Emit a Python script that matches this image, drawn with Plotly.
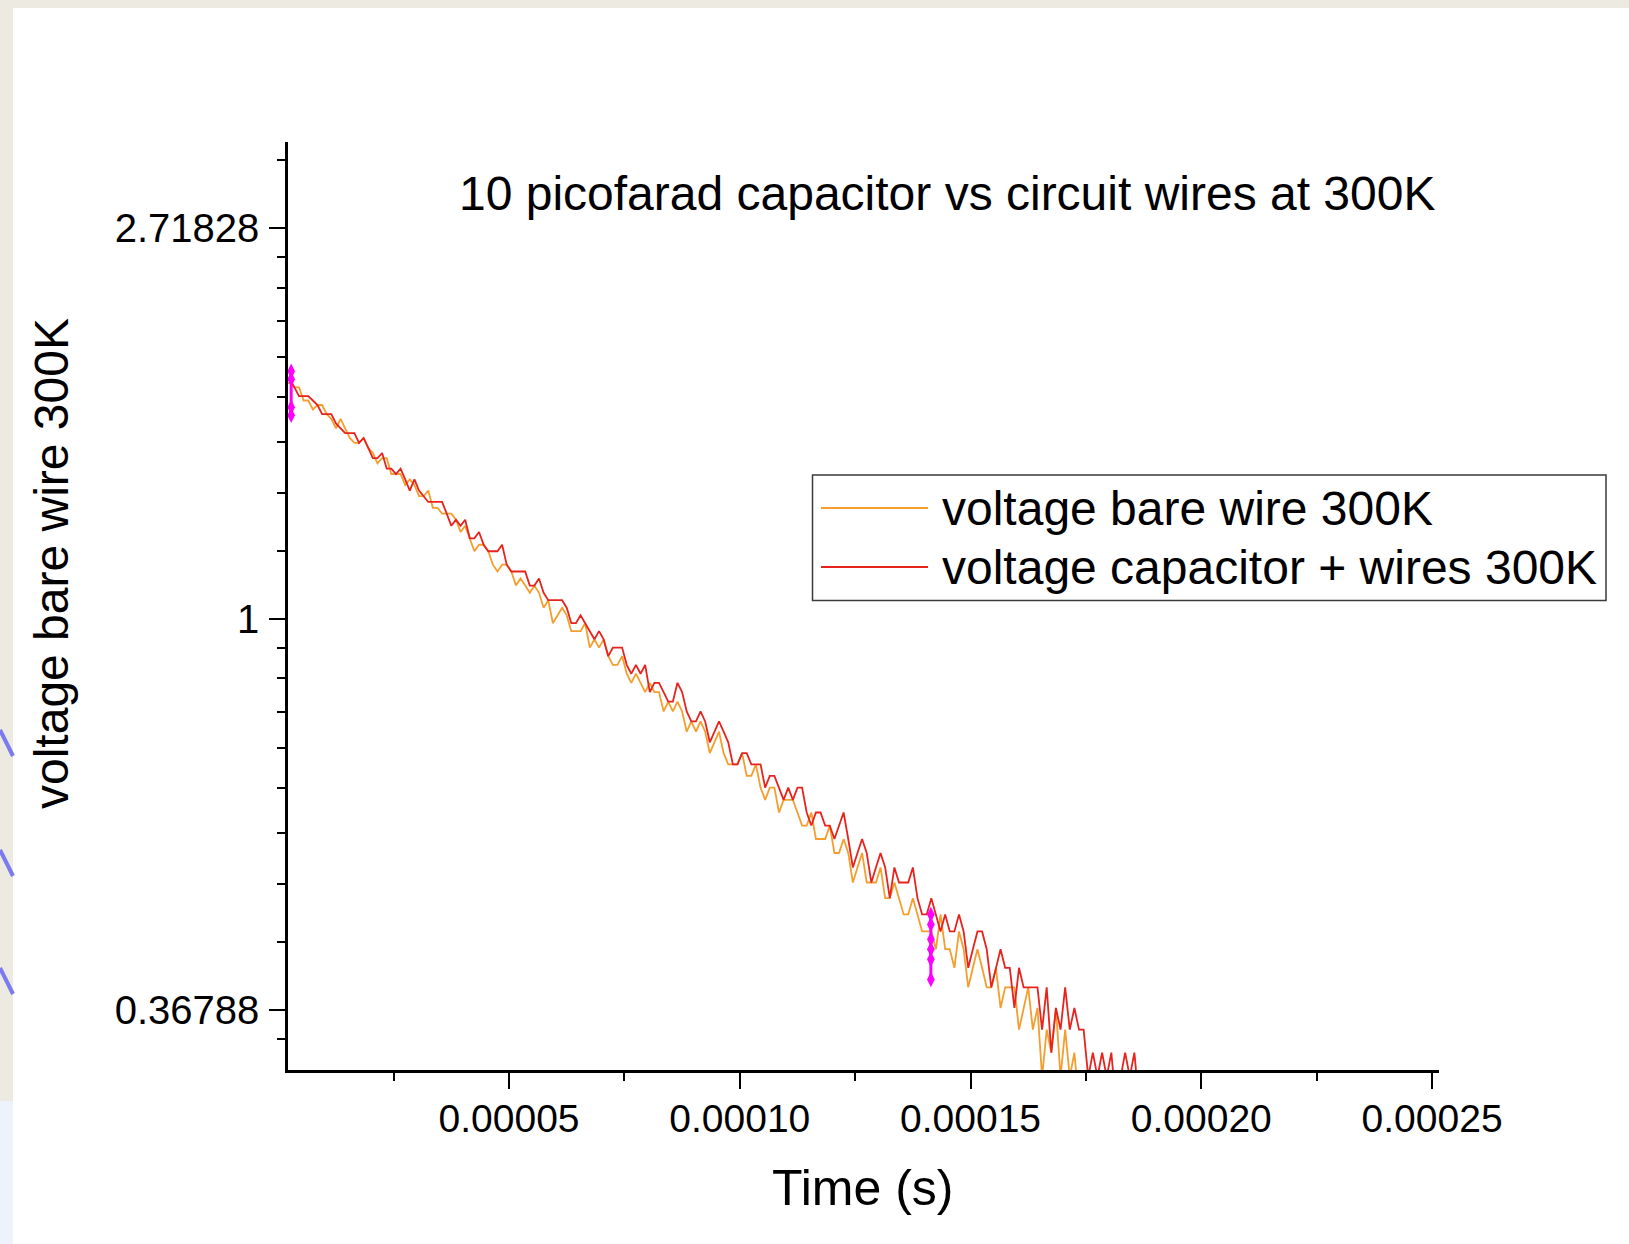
import math
import plotly.graph_objects as go

# ---------------- data ----------------
TITLE = "10 picofarad capacitor vs circuit wires at 300K"
X_TITLE = "Time (s)"
Y_TITLE = "voltage bare wire 300K"
SERIES_NAMES = ["voltage bare wire 300K", "voltage capacitor + wires 300K"]
SERIES_COLORS = ["#F59E2E", "#E8231E"]

T_START = 1.5e-6      # first sample time (s)
T_STEP = 1e-6         # sampling interval (s)

bare_wire = [
    1.83, 1.83, 1.81, 1.81, 1.75, 1.75, 1.71, 1.73, 1.73, 1.69,
    1.67, 1.63, 1.67, 1.63, 1.59, 1.57, 1.57, 1.59, 1.55, 1.53,
    1.49, 1.51, 1.51, 1.45, 1.45, 1.45, 1.41, 1.43, 1.41, 1.37,
    1.37, 1.39, 1.33, 1.33, 1.31, 1.31, 1.31, 1.29, 1.25, 1.27,
    1.23, 1.19, 1.21, 1.21, 1.19, 1.15, 1.13, 1.15, 1.15, 1.13,
    1.09, 1.11, 1.09, 1.07, 1.09, 1.07, 1.03, 1.05, 0.99, 1.01,
    1.03, 1.01, 0.97, 0.97, 0.97, 0.99, 0.93, 0.95, 0.93, 0.95,
    0.91, 0.89, 0.89, 0.91, 0.87, 0.85, 0.87, 0.85, 0.83, 0.85,
    0.83, 0.83, 0.79, 0.81, 0.79, 0.81, 0.79, 0.75, 0.77, 0.75,
    0.77, 0.75, 0.71, 0.73, 0.75, 0.71, 0.69, 0.69, 0.69, 0.71,
    0.67, 0.67, 0.69, 0.65, 0.63, 0.65, 0.65, 0.61, 0.63, 0.63,
    0.63, 0.61, 0.59, 0.59, 0.61, 0.57, 0.57, 0.57, 0.59, 0.55,
    0.55, 0.57, 0.55, 0.51, 0.53, 0.55, 0.51, 0.51, 0.51, 0.53,
    0.49, 0.49, 0.51, 0.49, 0.47, 0.47, 0.49, 0.47, 0.45, 0.45,
    0.45, 0.43, 0.47, 0.43, 0.43, 0.41, 0.45, 0.43, 0.39, 0.41,
    0.43, 0.41, 0.39, 0.39, 0.41, 0.37, 0.39, 0.39, 0.39, 0.35,
    0.37, 0.39, 0.35, 0.37, 0.31, 0.35, 0.33, 0.37, 0.31, 0.35,
    0.31, 0.33, 0.29, 0.31, 0.27,
]

capacitor_wires = [
    1.85, 1.85, 1.81, 1.77, 1.77, 1.77, 1.75, 1.73, 1.69, 1.69,
    1.69, 1.65, 1.63, 1.61, 1.61, 1.61, 1.57, 1.59, 1.55, 1.51,
    1.51, 1.53, 1.47, 1.47, 1.45, 1.47, 1.43, 1.39, 1.43, 1.39,
    1.37, 1.35, 1.35, 1.35, 1.35, 1.31, 1.27, 1.29, 1.27, 1.29,
    1.23, 1.23, 1.25, 1.21, 1.19, 1.19, 1.19, 1.21, 1.15, 1.13,
    1.13, 1.13, 1.13, 1.09, 1.09, 1.11, 1.07, 1.05, 1.05, 1.05,
    1.05, 1.03, 0.99, 0.99, 1.01, 0.99, 0.97, 0.95, 0.97, 0.95,
    0.91, 0.93, 0.93, 0.93, 0.89, 0.87, 0.89, 0.87, 0.89, 0.83,
    0.85, 0.85, 0.83, 0.81, 0.81, 0.85, 0.83, 0.79, 0.77, 0.77,
    0.79, 0.77, 0.73, 0.75, 0.77, 0.75, 0.73, 0.69, 0.69, 0.71,
    0.71, 0.69, 0.69, 0.69, 0.65, 0.67, 0.67, 0.65, 0.63, 0.65,
    0.63, 0.65, 0.65, 0.61, 0.59, 0.61, 0.61, 0.59, 0.59, 0.57,
    0.59, 0.61, 0.57, 0.53, 0.55, 0.57, 0.55, 0.51, 0.53, 0.55,
    0.53, 0.49, 0.53, 0.51, 0.51, 0.51, 0.53, 0.49, 0.47, 0.47,
    0.49, 0.47, 0.45, 0.47, 0.45, 0.45, 0.47, 0.45, 0.41, 0.43,
    0.45, 0.45, 0.43, 0.39, 0.41, 0.43, 0.41, 0.41, 0.37, 0.41,
    0.39, 0.39, 0.39, 0.39, 0.35, 0.39, 0.33, 0.37, 0.35, 0.39,
    0.35, 0.37, 0.35, 0.35, 0.31, 0.33, 0.31, 0.33, 0.31, 0.33,
    0.29, 0.31, 0.33, 0.31, 0.33, 0.29,
]

# magenta data-reader markers
cursor1_t = [2.8e-6, 2.8e-6, 2.8e-6, 2.8e-6]
cursor1_v = [1.886, 1.848, 1.720, 1.685]
cursor2_t = [1.414e-4, 1.414e-4, 1.414e-4, 1.414e-4, 1.414e-4, 1.414e-4]
cursor2_v = [0.470, 0.458, 0.441, 0.430, 0.419, 0.398]

X_TICK_VALS = [0.00005, 0.00010, 0.00015, 0.00020, 0.00025]
X_TICK_TEXT = ["0.00005", "0.00010", "0.00015", "0.00020", "0.00025"]
X_MINOR_VALS = [0.000025, 0.000075, 0.000125, 0.000175, 0.000225]
Y_TICK_VALS = [math.exp(-1), 1.0, math.exp(1)]
Y_TICK_TEXT = ["0.36788", "1", "2.71828"]
X_RANGE = [2.11e-6, 2.515e-4]
Y_RANGE = [0.3157, 3.39]

# ---------------- layout helpers ----------------
W, H = 1629, 1244
L, R, T, B = 288, 1439, 142, 1070   # plot area in pixels


def px(x):
    return (x - L) / (R - L)


def py(y):
    return (B - y) / (B - T)


# minor ticks of Origin's natural-log axis: 9 equal linear parts per e-fold
y_minor = []
for d in range(-2, 2):
    lo, hi = math.exp(d), math.exp(d + 1)
    for k in range(1, 9):
        v = lo + k * (hi - lo) / 9
        if Y_RANGE[0] * 1.01 < v < Y_RANGE[1]:
            y_minor.append(v)

FONT = "Liberation Sans, Arial, sans-serif"

fig = go.Figure()
fig.add_trace(go.Scatter(x0=T_START, dx=T_STEP, y=bare_wire, mode="lines",
                         name=SERIES_NAMES[0], showlegend=False,
                         line=dict(color=SERIES_COLORS[0], width=1.8)))
fig.add_trace(go.Scatter(x0=T_START, dx=T_STEP, y=capacitor_wires, mode="lines",
                         name=SERIES_NAMES[1], showlegend=False,
                         line=dict(color=SERIES_COLORS[1], width=1.8)))
for ct, cv in ((cursor1_t, cursor1_v), (cursor2_t, cursor2_v)):
    fig.add_trace(go.Scatter(x=ct, y=cv, mode="lines+markers", showlegend=False,
                             line=dict(color="#FF00FF", width=3),
                             marker=dict(color="#FF00FF", symbol="diamond-tall", size=11)))

axis_common = dict(showline=True, linecolor="black", linewidth=2.5, showgrid=False,
                   zeroline=False, ticks="outside", tickwidth=2, ticklen=16,
                   tickcolor="black", mirror=False)

fig.update_xaxes(range=X_RANGE, tickmode="array", tickvals=X_TICK_VALS,
                 ticktext=X_TICK_TEXT, ticklabelstandoff=-4,
                 tickfont=dict(family=FONT, size=39, color="black"),
                 minor=dict(tickmode="array", tickvals=X_MINOR_VALS, ticks="outside",
                            ticklen=8, tickwidth=2, tickcolor="black"),
                 **axis_common)
fig.update_yaxes(type="log", range=[math.log10(Y_RANGE[0]), math.log10(Y_RANGE[1])],
                 tickmode="array", tickvals=Y_TICK_VALS, ticktext=Y_TICK_TEXT,
                 ticklabelstandoff=2,
                 tickfont=dict(family=FONT, size=40, color="black"),
                 minor=dict(tickmode="array", tickvals=y_minor, ticks="outside",
                            ticklen=8, tickwidth=2, tickcolor="black"),
                 **axis_common)

shapes = [
    # slide background pieces around the chart image
    dict(type="rect", xref="paper", yref="paper", x0=px(0), x1=px(W), y0=py(8), y1=py(0),
         fillcolor="#ECEAE1", line=dict(width=0), layer="below"),
    dict(type="rect", xref="paper", yref="paper", x0=px(0), x1=px(13), y0=py(1101), y1=py(0),
         fillcolor="#ECEAE1", line=dict(width=0), layer="below"),
    dict(type="rect", xref="paper", yref="paper", x0=px(0), x1=px(13), y0=py(H), y1=py(1101),
         fillcolor="#EEF2FA", line=dict(width=0), layer="below"),
]
for y0 in (730, 850, 968):
    shapes.append(dict(type="line", xref="paper", yref="paper", x0=px(0), x1=px(13),
                       y0=py(y0), y1=py(y0 + 26), line=dict(color="#7B7BEE", width=4)))
# legend box
shapes.append(dict(type="rect", xref="paper", yref="paper", x0=px(812.5), x1=px(1606),
                   y0=py(600.5), y1=py(475), fillcolor="white",
                   line=dict(color="#3A3A3A", width=1.5)))
LEG_ROWS = [508, 567]
for yy, col in zip(LEG_ROWS, SERIES_COLORS):
    shapes.append(dict(type="line", xref="paper", yref="paper", x0=px(821), x1=px(928),
                       y0=py(yy), y1=py(yy), line=dict(color=col, width=1.8)))

annotations = [
    dict(text=TITLE, x=px(947), y=py(194), font=dict(family=FONT, size=48, color="black")),
    dict(text=X_TITLE, x=px(862), y=py(1188), font=dict(family=FONT, size=50, color="black")),
    dict(text=Y_TITLE, x=px(51), y=py(564), textangle=-90,
         font=dict(family=FONT, size=48, color="black")),
]
for yy, name in zip(LEG_ROWS, SERIES_NAMES):
    annotations.append(dict(text=name, x=px(940), y=py(yy), xanchor="left",
                            font=dict(family=FONT, size=48, color="black")))
for a in annotations:
    a.update(xref="paper", yref="paper", showarrow=False)
    a.setdefault("xanchor", "center")
    a.setdefault("yanchor", "middle")

fig.update_layout(width=W, height=H, autosize=False,
                  margin=dict(l=L, r=W - R, t=T, b=H - B, pad=0),
                  paper_bgcolor="white", plot_bgcolor="white",
                  showlegend=False, shapes=shapes, annotations=annotations,
                  font=dict(family=FONT, color="black"))

fig.write_html("out.html", config={"displayModeBar": False},
               post_script="document.body.style.margin='0';document.body.style.overflow='hidden';")
